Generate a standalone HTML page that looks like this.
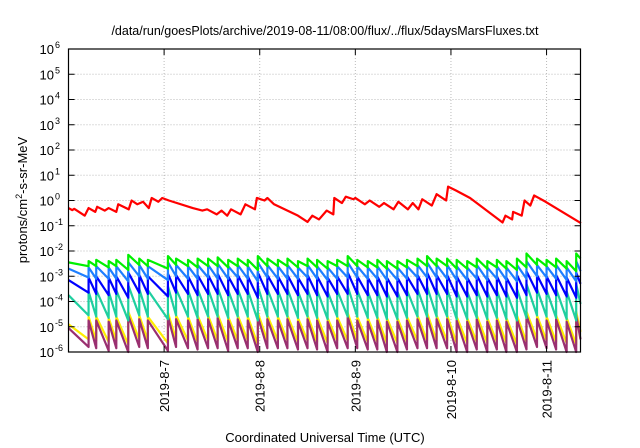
<!DOCTYPE html>
<html><head><meta charset="utf-8"><style>
html,body{margin:0;padding:0;background:#fff;}
svg{display:block;font-family:"Liberation Sans",sans-serif;}
</style></head><body>
<svg id="chart" width="640" height="448" viewBox="0 0 640 448" xmlns="http://www.w3.org/2000/svg">
<rect width="640" height="448" fill="#fff"/>
<text x="325" y="35" font-size="12.5" text-anchor="middle" fill="#000">/data/run/goesPlots/archive/2019-08-11/08:00/flux/../flux/5daysMarsFluxes.txt</text>
<text x="325" y="442" font-size="13" text-anchor="middle" fill="#000">Coordinated Universal Time (UTC)</text>
<text transform="translate(27,200) rotate(-90)" font-size="13" text-anchor="middle" fill="#000">protons/cm<tspan dy="-5" font-size="9">2</tspan><tspan dy="5">-s-sr-MeV</tspan></text>
<g id="grid"></g><g id="series"></g><g id="axes"></g>
</svg>
<script>
const dayLabels = ["2019-8-7","2019-8-8","2019-8-9","2019-8-10","2019-8-11"];
const dayTicks = [1,2,3,4,5];
const decades = [-6,-5,-4,-3,-2,-1,0,1,2,3,4,5,6];
const jumpTimes = [0.0,0.21,0.29,0.42,0.5,0.625,0.74,0.83,1.04,1.125,
 1.25,1.35,1.46,1.56,1.67,1.77,1.875,1.98,2.08,2.19,
 2.29,2.4,2.5,2.6,2.71,2.81,2.92,3.02,3.13,3.23,
 3.33,3.44,3.54,3.65,3.75,3.85,3.96,4.06,4.17,4.27,
 4.38,4.48,4.58,4.69,4.79,4.9,5.0,5.1,5.21,5.31];
const greenPeaks = [-2.45,-2.4,-2.35,-2.4,-2.35,-2.15,-2.3,-2.35,-2.2,-2.3,
 -2.35,-2.3,-2.3,-2.25,-2.35,-2.3,-2.35,-2.2,-2.3,-2.35,
 -2.3,-2.4,-2.3,-2.35,-2.4,-2.35,-2.2,-2.35,-2.4,-2.35,
 -2.4,-2.4,-2.35,-2.3,-2.2,-2.3,-2.3,-2.35,-2.4,-2.3,
 -2.4,-2.35,-2.4,-2.3,-2.1,-2.3,-2.35,-2.3,-2.4,-2.1];
const greenTroughs = [-2.6,-2.6,-2.65,-2.6,-2.75,-2.55,-2.6,-2.7,-2.55,-2.6,
 -2.65,-2.6,-2.6,-2.65,-2.6,-2.6,-2.75,-2.6,-2.6,-2.6,
 -2.65,-2.6,-2.65,-2.7,-2.6,-2.6,-2.6,-2.65,-2.65,-2.7,
 -2.7,-2.65,-2.6,-2.6,-2.6,-2.6,-2.7,-2.7,-2.65,-2.7,
 -2.65,-2.7,-2.75,-2.65,-2.55,-2.6,-2.65,-2.7,-2.8,-2.3];
const lblueePeaks = [-2.7,-2.65,-2.6,-2.65,-2.6,-2.45,-2.55,-2.6,-2.45,-2.55,
 -2.6,-2.55,-2.55,-2.5,-2.6,-2.55,-2.6,-2.45,-2.55,-2.6,
 -2.55,-2.65,-2.55,-2.6,-2.65,-2.6,-2.45,-2.6,-2.65,-2.6,
 -2.65,-2.65,-2.6,-2.55,-2.45,-2.55,-2.55,-2.6,-2.65,-2.55,
 -2.65,-2.6,-2.65,-2.55,-2.4,-2.55,-2.6,-2.55,-2.65,-2.4];
const lblueTroughs = [-3.05,-3.1,-3.1,-3.1,-3.2,-3.0,-3.1,-3.15,-3.0,-3.1,
 -3.1,-3.05,-3.1,-3.1,-3.05,-3.1,-3.2,-3.05,-3.1,-3.1,
 -3.1,-3.05,-3.1,-3.15,-3.1,-3.05,-3.05,-3.1,-3.1,-3.15,
 -3.15,-3.1,-3.05,-3.05,-3.05,-3.1,-3.15,-3.15,-3.1,-3.15,
 -3.1,-3.15,-3.2,-3.1,-3.0,-3.05,-3.1,-3.15,-3.2,-2.8];
const bluePeaks = [-3.15,-3.05,-3.0,-3.05,-3.0,-2.85,-2.95,-3.0,-2.9,-2.95,
 -3.0,-2.95,-2.95,-2.9,-3.0,-2.95,-3.0,-2.85,-2.95,-3.0,
 -2.95,-3.05,-2.95,-3.0,-3.05,-3.0,-2.85,-3.0,-3.05,-3.0,
 -3.05,-3.05,-3.0,-2.95,-2.85,-2.95,-2.95,-3.0,-3.05,-2.95,
 -3.05,-3.0,-3.05,-2.95,-2.8,-2.95,-3.0,-2.95,-3.05,-2.85];
const blueTroughs = [-3.65,-3.7,-3.75,-3.7,-3.85,-3.65,-3.7,-3.8,-3.65,-3.7,
 -3.75,-3.7,-3.7,-3.75,-3.7,-3.7,-3.85,-3.7,-3.7,-3.7,
 -3.75,-3.7,-3.75,-3.8,-3.7,-3.7,-3.7,-3.75,-3.75,-3.8,
 -3.8,-3.75,-3.7,-3.7,-3.7,-3.7,-3.8,-3.8,-3.75,-3.8,
 -3.75,-3.8,-3.85,-3.75,-3.65,-3.7,-3.75,-3.8,-3.85,-3.3];
const tealPeaks = [-3.75,-3.6,-3.55,-3.6,-3.55,-3.35,-3.5,-3.55,-3.4,-3.5,
 -3.55,-3.5,-3.5,-3.45,-3.55,-3.5,-3.55,-3.4,-3.5,-3.55,
 -3.5,-3.6,-3.5,-3.55,-3.6,-3.55,-3.4,-3.55,-3.6,-3.55,
 -3.6,-3.6,-3.55,-3.5,-3.4,-3.5,-3.5,-3.55,-3.6,-3.5,
 -3.6,-3.55,-3.6,-3.5,-3.3,-3.5,-3.55,-3.5,-3.6,-3.3];
const tealTroughs = [-4.55,-4.6,-4.65,-4.6,-4.75,-4.55,-4.6,-4.7,-4.55,-4.6,
 -4.65,-4.6,-4.6,-4.65,-4.6,-4.6,-4.75,-4.6,-4.6,-4.6,
 -4.65,-4.6,-4.65,-4.7,-4.6,-4.6,-4.6,-4.65,-4.65,-4.7,
 -4.7,-4.65,-4.6,-4.6,-4.6,-4.6,-4.7,-4.7,-4.65,-4.7,
 -4.65,-4.7,-4.75,-4.65,-4.55,-4.6,-4.65,-4.7,-4.75,-4.1];
const yellowPeaks = [-4.9,-4.6,-4.6,-4.65,-4.6,-4.4,-4.55,-4.6,-4.45,-4.55,
 -4.6,-4.55,-4.55,-4.5,-4.6,-4.55,-4.6,-4.45,-4.55,-4.6,
 -4.55,-4.65,-4.55,-4.6,-4.65,-4.6,-4.45,-4.6,-4.65,-4.6,
 -4.65,-4.65,-4.6,-4.55,-4.45,-4.55,-4.55,-4.6,-4.65,-4.55,
 -4.65,-4.6,-4.65,-4.55,-4.4,-4.55,-4.6,-4.55,-4.65,-4.4];
const yellowTroughs = [-5.5,-5.55,-5.6,-5.55,-5.7,-5.5,-5.55,-5.65,-5.5,-5.55,
 -5.6,-5.55,-5.55,-5.6,-5.55,-5.55,-5.7,-5.55,-5.55,-5.55,
 -5.6,-5.55,-5.6,-5.65,-5.55,-5.55,-5.55,-5.6,-5.6,-5.65,
 -5.65,-5.6,-5.55,-5.55,-5.55,-5.55,-5.65,-5.65,-5.6,-5.65,
 -5.6,-5.65,-5.7,-5.6,-5.5,-5.55,-5.6,-5.65,-5.7,-5.2];
const purplePeaks = [-5.05,-4.75,-4.75,-4.8,-4.75,-4.55,-4.7,-4.75,-4.6,-4.7,
 -4.75,-4.7,-4.7,-4.65,-4.75,-4.7,-4.75,-4.6,-4.7,-4.75,
 -4.7,-4.8,-4.7,-4.75,-4.8,-4.75,-4.6,-4.75,-4.8,-4.75,
 -4.8,-4.8,-4.75,-4.7,-4.6,-4.7,-4.7,-4.75,-4.8,-4.7,
 -4.8,-4.75,-4.8,-4.7,-4.55,-4.7,-4.75,-4.7,-4.8,-4.55];
const purpleTroughs = [-5.8,-5.85,-5.95,-5.85,-6.0,-5.8,-5.85,-5.95,-5.8,-5.85,
 -5.9,-5.85,-5.85,-5.95,-5.85,-5.85,-6.0,-5.85,-5.85,-5.85,
 -5.9,-5.85,-5.9,-6.0,-5.85,-5.85,-5.85,-5.9,-5.9,-6.0,
 -6.0,-5.9,-5.85,-5.85,-5.85,-5.85,-6.0,-6.0,-5.9,-6.0,
 -5.9,-6.0,-6.0,-5.9,-5.8,-5.85,-5.9,-6.0,-6.0,-5.5];
const redTimes = [0.0,0.04,0.06,0.17,0.21,0.28,0.30,0.38,0.42,0.50,0.52,0.63,0.66,0.72,0.78,0.84,0.87,0.94,0.98,1.05,
 1.3,1.4,1.45,1.55,1.6,1.66,1.7,1.8,1.85,1.95,1.97,2.05,2.08,2.15,2.4,2.5,2.55,2.62,2.7,2.77,2.78,2.86,2.9,2.98,3.0,
 3.1,3.15,3.25,3.3,3.4,3.45,3.55,3.6,3.66,3.7,3.8,3.85,3.95,3.97,4.05,4.2,4.54,4.57,4.64,4.65,4.74,4.77,4.83,4.87,4.99,5.36];
const redLogs = [-0.3,-0.38,-0.33,-0.6,-0.3,-0.45,-0.25,-0.4,-0.3,-0.45,-0.15,-0.35,0.0,-0.15,-0.05,-0.3,0.1,-0.05,0.1,0.0,
 -0.3,-0.4,-0.35,-0.55,-0.4,-0.6,-0.35,-0.55,-0.15,-0.35,0.1,0.0,0.1,-0.15,-0.6,-0.85,-0.6,-0.75,-0.4,-0.55,0.1,-0.1,0.15,0.05,0.1,
 -0.15,0.0,-0.25,-0.1,-0.35,-0.05,-0.35,-0.1,-0.35,0.05,-0.2,0.25,0.0,0.55,0.4,0.1,-0.87,-0.6,-0.75,-0.45,-0.6,0.0,-0.2,0.2,-0.05,-0.9];

const L=68.5,R=580.5,T=49,B=352, X0=0, X1=5.355, Y0=-6, Y1=6;
function xs(d){return L+(d-X0)/(X1-X0)*(R-L);}
function ys(l){return B-(l-Y0)/(Y1-Y0)*(B-T);}
const NS="http://www.w3.org/2000/svg";
function mk(tag,attrs,parent){const e=document.createElementNS(NS,tag);for(const k in attrs)e.setAttribute(k,attrs[k]);parent.appendChild(e);return e;}
const grid=document.getElementById('grid'),axes=document.getElementById('axes'),ser=document.getElementById('series');
decades.forEach(d=>{
  const y=ys(d);
  if(d>Y0&&d<Y1){const g=mk('line',{x1:L,x2:R,y1:y,y2:y,stroke:'#bbb','stroke-width':1,'stroke-dasharray':'1,2'},grid);
  
  }
  const t=mk('line',{x1:L,x2:L+6,y1:y,y2:y,stroke:'#000','stroke-width':1},axes);
  
  
  const t2=mk('line',{x1:R-6,x2:R,y1:y,y2:y,stroke:'#000','stroke-width':1},axes);
  
  
  const tx=mk('text',{x:54,y:y+5,'font-size':13,'text-anchor':'end',fill:'#000'},axes);
  
  
  tx.appendChild(document.createTextNode('10'));
  const sp=mk('tspan',{x:55,dy:-6,'font-size':9,'text-anchor':'start'},tx);sp.textContent=String(d);
});
dayTicks.forEach((d,i)=>{
  const x=xs(d);
  const g=mk('line',{x1:x,x2:x,y1:T,y2:B,stroke:'#bbb','stroke-width':1,'stroke-dasharray':'1,2'},grid);
  
  
  const t=mk('line',{x1:x,x2:x,y1:B-6,y2:B,stroke:'#000'},axes);
  
  
  const t2=mk('line',{x1:x,x2:x,y1:T,y2:T+6,stroke:'#000'},axes);
  
  
  const tx=mk('text',{transform:`translate(${x+5},${360}) rotate(-90)`,'font-size':13,'text-anchor':'end',fill:'#000'},axes);
  
  
  tx.textContent=dayLabels[i];
});
const box=mk('rect',{x:L,y:T,width:R-L,height:B-T,fill:'none',stroke:'#000','stroke-width':1.2},axes);


function saw(peaks,troughs){
  let p='';
  for(let i=0;i<jumpTimes.length;i++){
    const t=jumpTimes[i], tn=(i+1<jumpTimes.length)?jumpTimes[i+1]:X1;
    if(i>0)p+=`L${xs(t)},${ys(troughs[i-1])}`;
    p+=(i===0?'M':'L')+`${xs(t)},${ys(peaks[i])}`;
    p+=`L${xs(tn)},${ys(troughs[i])}`;
  }
  return p;
}
const defs=[['purple-series',purplePeaks,purpleTroughs,'#9a3070'],['teal-series',tealPeaks,tealTroughs,'#1fcf9f'],
 ['blue-series',bluePeaks,blueTroughs,'#0000ff'],['lightblue-series',lblueePeaks,lblueTroughs,'#1e7fff'],['green-series',greenPeaks,greenTroughs,'#00f000']];
const yel=mk('path',{d:saw(yellowPeaks,yellowTroughs),fill:'none',stroke:'#ffee00','stroke-width':2.2,'stroke-linejoin':'round'},ser);


defs.forEach(s=>{
  const e=mk('path',{d:saw(s[1],s[2]),fill:'none',stroke:s[3],'stroke-width':2.2,'stroke-linejoin':'round'},ser);
  
  
});
let rp='';redTimes.forEach((t,i)=>{rp+=(i?'L':'M')+xs(t)+','+ys(redLogs[i]);});
const red=mk('path',{d:rp,fill:'none',stroke:'#ff0000','stroke-width':2.2,'stroke-linejoin':'round'},ser);


</script>
</body></html>
